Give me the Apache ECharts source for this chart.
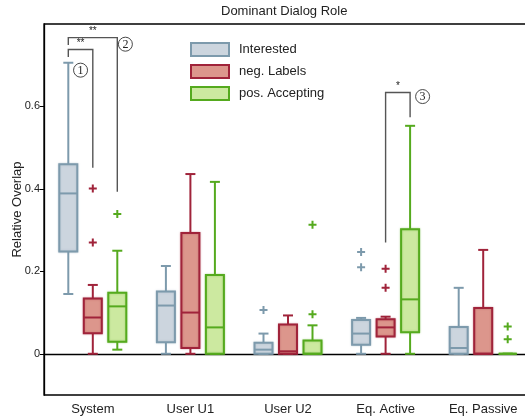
<!DOCTYPE html>
<html><head><meta charset="utf-8">
<script src="https://cdn.jsdelivr.net/npm/echarts@6/dist/echarts.min.js"></script>
<style>html,body{margin:0;padding:0;background:#fff}#c{width:525px;height:418px}</style>
</head><body><div id="c"></div>
<script>
const categories = ['System', 'User U1', 'User U2', 'Eq. Active', 'Eq. Passive'];
const seriesNames = ['Interested', 'neg. Labels', 'pos. Accepting'];
// [min, Q1, median, Q3, max] per category
const interested = [
  [0.145, 0.248, 0.389, 0.460, 0.706],
  [0.000, 0.028, 0.117, 0.151, 0.213],
  [0.000, 0.000, 0.010, 0.027, 0.049],
  [0.000, 0.022, 0.049, 0.082, 0.087],
  [0.000, 0.000, 0.014, 0.065, 0.160]
];
const negLabels = [
  [0.000, 0.050, 0.088, 0.134, 0.167],
  [0.000, 0.014, 0.100, 0.293, 0.436],
  [0.000, 0.000, 0.006, 0.071, 0.093],
  [0.000, 0.042, 0.064, 0.084, 0.090],
  [0.000, 0.000, 0.000, 0.111, 0.252]
];
const posAccepting = [
  [0.010, 0.029, 0.115, 0.148, 0.250],
  [0.000, 0.000, 0.064, 0.191, 0.417],
  [0.000, 0.000, 0.000, 0.032, 0.069],
  [0.000, 0.052, 0.132, 0.302, 0.553],
  [0.000, 0.000, 0.000, 0.000, 0.000]
];
// outliers: [categoryIndex, value]
const interestedOutliers = [[2, 0.106], [3, 0.247], [3, 0.210]];
const negLabelsOutliers = [[0, 0.401], [0, 0.270], [3, 0.206], [3, 0.160]];
const posAcceptingOutliers = [[0, 0.339], [2, 0.313], [2, 0.096], [4, 0.066], [4, 0.035]];
const yTicks = [0, 0.2, 0.4, 0.6];
// significance brackets: category, from/to series slot, top value, left/right end values
const bracketCats = [0, 0, 3];
const bracketFrom = [-1, -1, 0];
const bracketTo = [0, 1, 1];
const bracketTop = [0.738, 0.767, 0.634];
const bracketLeftEnd = [0.720, 0.749, 0.270];
const bracketRightEnd = [0.451, 0.393, 0.574];
const bracketStars = ['**', '**', '*'];
const bracketNums = ['1', '2', '3'];
const bracketNumSlot = [-0.5, 1.33, 1.51];
const bracketNumValue = [0.688, 0.751, 0.624];

const SLOT = 24.5;
const fills = ['#ccd5de', '#dc968c', '#cce9a0'];
const strokes = ['#7d9aac', '#a0233a', '#55aa1e'];

function boxRender(slot, fill, stroke) {
  return function (params, api) {
    const cat = api.value(0);
    const p = i => api.coord([cat, api.value(i)]);
    const x = p(1)[0] + slot * SLOT;
    const yMin = p(1)[1], yQ1 = p(2)[1], yMed = p(3)[1], yQ3 = p(4)[1], yMax = p(5)[1];
    const bw = 18, cw = 10;
    const ls = { stroke: stroke, lineWidth: 2 };
    return {
      type: 'group', children: [
        { type: 'line', shape: { x1: x, y1: yQ3, x2: x, y2: yMax }, style: ls },
        { type: 'line', shape: { x1: x, y1: yQ1, x2: x, y2: yMin }, style: ls },
        { type: 'line', shape: { x1: x - cw / 2, y1: yMax, x2: x + cw / 2, y2: yMax }, style: ls },
        { type: 'line', shape: { x1: x - cw / 2, y1: yMin, x2: x + cw / 2, y2: yMin }, style: ls },
        { type: 'rect', shape: { x: x - bw / 2, y: yQ3, width: bw, height: yQ1 - yQ3 },
          style: { fill: fill, stroke: stroke, lineWidth: 2, shadowBlur: 2, shadowColor: stroke + '66' } },
        { type: 'line', shape: { x1: x - bw / 2, y1: yMed, x2: x + bw / 2, y2: yMed }, style: ls }
      ]
    };
  };
}

function boxData(arr) { return arr.map((r, i) => [i].concat(r)); }

const plusPath = 'path://M3,0H5V3H8V5H5V8H3V5H0V3H3Z';
const groups = [interested, negLabels, posAccepting];
const outs = [interestedOutliers, negLabelsOutliers, posAcceptingOutliers];

const series = [];
groups.forEach((g, k) => {
  series.push({
    name: seriesNames[k], type: 'custom', renderItem: boxRender(k - 1, fills[k], strokes[k]),
    data: boxData(g), encode: { x: 0, y: [1, 2, 3, 4, 5] }, itemStyle: { color: fills[k] }, z: 3
  });
});
outs.forEach((o, k) => {
  series.push({
    name: seriesNames[k], type: 'scatter', data: o, symbol: plusPath, symbolSize: 8,
    symbolOffset: [(k - 1) * SLOT, 0], itemStyle: { color: strokes[k], opacity: 1 }, z: 4
  });
});
series.push({
  name: 'brackets', type: 'custom', z: 2,
  data: bracketCats.map((c, i) => [c, bracketTop[i]]),
  renderItem: function (params, api) {
    const i = params.dataIndex;
    const c = bracketCats[i];
    const cx = api.coord([c, 0])[0];
    const xl = cx + bracketFrom[i] * SLOT, xr = cx + bracketTo[i] * SLOT;
    const yt = api.coord([c, bracketTop[i]])[1];
    const yl = api.coord([c, bracketLeftEnd[i]])[1];
    const yr = api.coord([c, bracketRightEnd[i]])[1];
    const nx = cx + bracketNumSlot[i] * SLOT;
    const ny = api.coord([c, bracketNumValue[i]])[1];
    return {
      type: 'group', children: [
        { type: 'polyline', shape: { points: [[xl, yl], [xl, yt], [xr, yt], [xr, yr]] },
          style: { stroke: '#555', lineWidth: 1.4, fill: null } },
        { type: 'text', x: (xl + xr) / 2, y: yt - 1,
          style: { text: bracketStars[i], align: 'center', verticalAlign: 'bottom', fontSize: 10, fill: '#222', fontFamily: 'Liberation Sans' } },
        { type: 'circle', shape: { cx: nx, cy: ny, r: 7 }, style: { fill: '#fff', stroke: '#333', lineWidth: 0.9 } },
        { type: 'text', x: nx, y: ny + 0.5,
          style: { text: bracketNums[i], align: 'center', verticalAlign: 'middle', fontSize: 12, fill: '#222', fontFamily: 'Liberation Serif' } }
      ]
    };
  }
});

const chart = echarts.init(document.getElementById('c'), null, { renderer: 'canvas' });
chart.setOption({
  animation: false,
  textStyle: { fontFamily: 'Liberation Sans, Arial, sans-serif' },
  title: { text: 'Dominant Dialog Role', left: 216, top: 0,
    textStyle: { fontSize: 13, fontWeight: 'normal', color: '#222' } },
  legend: {
    orient: 'vertical', left: 190, top: 42, padding: 0, itemWidth: 38, itemHeight: 13, itemGap: 7,
    icon: 'rect', textStyle: { fontSize: 13, color: '#222', padding: [0, 0, 0, 5] },
    data: seriesNames.map((n, k) => ({ name: n, itemStyle: { color: fills[k], borderColor: strokes[k], borderWidth: 2 } }))
  },
  grid: { left: 44, top: 24, width: 488, height: 371, show: true, borderColor: '#000', borderWidth: 1.3,
    outerBoundsMode: 'none', containLabel: false },
  xAxis: {
    type: 'category', data: categories,
    axisLine: { lineStyle: { color: '#000', width: 1.3 } },
    axisTick: { show: false },
    axisLabel: { fontSize: 13, color: '#222', margin: 8 },
    splitLine: { show: false }
  },
  yAxis: {
    type: 'value', min: -0.1, max: 0.8,
    name: 'Relative Overlap', nameLocation: 'middle', nameGap: 20, nameMoveOverlap: false,
    nameTextStyle: { fontSize: 13, color: '#222' },
    axisLine: { show: true, lineStyle: { color: '#000', width: 1.3 } },
    axisTick: { show: true, length: 4, customValues: yTicks, lineStyle: { color: '#000' } },
    axisLabel: { fontSize: 11, color: '#222', margin: 4, customValues: yTicks },
    splitLine: { show: false }
  },
  series: series
});
</script></body></html>
